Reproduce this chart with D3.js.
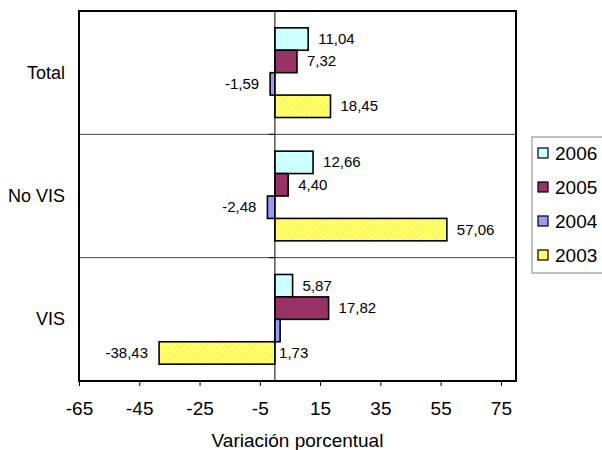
<!DOCTYPE html>
<html>
<head>
<meta charset="utf-8">
<script src="https://cdn.jsdelivr.net/npm/d3@7/dist/d3.min.js"></script>
<style>
  html, body { margin: 0; padding: 0; background: #fff; }
  svg { display: block; font-family: "Liberation Sans", Arial, sans-serif; }
</style>
</head>
<body>
<svg id="chart" width="602" height="450"></svg>
<script>
// ---- Data ----
const categories = ["Total", "No VIS", "VIS"];
const seriesNames = ["2006", "2005", "2004", "2003"];
const values2006 = [11.04, 12.66, 5.87];
const values2005 = [7.32, 4.40, 17.82];
const values2004 = [-1.59, -2.48, 1.73];
const values2003 = [18.45, 57.06, -38.43];
const xTickValues = [-65, -45, -25, -5, 15, 35, 55, 75];
const xDomain = [-65, 80];
const axisTitle = "Variación porcentual";

// ---- Styles ----
const colors = { "2006": "#CCFFFF", "2005": "#993366", "2004": "#9999FF", "2003": "url(#hatch)" };
const seriesValues = { "2006": values2006, "2005": values2005, "2004": values2004, "2003": values2003 };

const svg = d3.select("#chart");
const plot = { left: 79, right: 516, top: 11, bottom: 381 };

const locale = d3.formatLocale({ decimal: ",", thousands: ".", grouping: [3], currency: ["", ""], minus: "-" });
const fmt2 = locale.format(".2f");
const fmt0 = locale.format("d");

// pattern for 2003
const defs = svg.append("defs");
const pat = defs.append("pattern").attr("id", "hatch").attr("patternUnits", "userSpaceOnUse")
  .attr("width", 3).attr("height", 3);
pat.append("rect").attr("width", 3).attr("height", 3).attr("fill", "#FFFF3C");
pat.append("path").attr("d", "M0,3 L3,0 M-1,1 L1,-1 M2,4 L4,2").attr("stroke", "#FFFFC8").attr("stroke-width", 0.9);

const x = d3.scaleLinear().domain(xDomain).range([plot.left, plot.right]);
const y = d3.scaleBand().domain(categories).range([plot.top, plot.bottom]);
const yInner = d3.scaleBand().domain(seriesNames).range([0, y.bandwidth()]).paddingInner(0).paddingOuter(0.75);

// gridlines at category boundaries
const boundaries = categories.slice(1).map(c => y(c));
svg.append("g").selectAll("line").data(boundaries).join("line")
  .attr("x1", plot.left).attr("x2", plot.right)
  .attr("y1", d => d).attr("y2", d => d)
  .attr("stroke", "#404040").attr("stroke-width", 1);

// category tick marks (left of zero line)
const catTicks = [plot.top].concat(boundaries).concat([plot.bottom]);
svg.append("g").selectAll("line").data(catTicks).join("line")
  .attr("x1", x(0) - 6).attr("x2", x(0))
  .attr("y1", d => d).attr("y2", d => d)
  .attr("stroke", "#000").attr("stroke-width", 1);

// bars
const rows = [];
categories.forEach((c, i) => {
  seriesNames.forEach(s => rows.push({ cat: c, series: s, value: seriesValues[s][i] }));
});

svg.append("g").selectAll("rect").data(rows).join("rect")
  .attr("x", d => x(Math.min(0, d.value)))
  .attr("width", d => Math.abs(x(d.value) - x(0)))
  .attr("y", d => y(d.cat) + yInner(d.series))
  .attr("height", yInner.bandwidth())
  .attr("fill", d => colors[d.series])
  .attr("stroke", "#000").attr("stroke-width", 1.6);

// zero line (category axis)
svg.append("line").attr("x1", x(0)).attr("x2", x(0)).attr("y1", plot.top).attr("y2", plot.bottom)
  .attr("stroke", "#000").attr("stroke-width", 1);

// plot border
svg.append("rect").attr("x", plot.left).attr("y", plot.top)
  .attr("width", plot.right - plot.left).attr("height", plot.bottom - plot.top)
  .attr("fill", "none").attr("stroke", "#000").attr("stroke-width", 2);

// value labels
const labelNudge = { "VIS|2004": [-11, 22] };
svg.append("g").selectAll("text").data(rows).join("text")
  .attr("x", d => {
    const n = labelNudge[d.cat + "|" + d.series] || [0, 0];
    return (d.value >= 0 ? x(d.value) + 10 : x(d.value) - 11) + n[0];
  })
  .attr("y", d => {
    const n = labelNudge[d.cat + "|" + d.series] || [0, 0];
    return y(d.cat) + yInner(d.series) + yInner.bandwidth() / 2 + 5 + n[1];
  })
  .attr("text-anchor", d => d.value >= 0 ? "start" : "end")
  .attr("font-size", 15).attr("fill", "#000")
  .text(d => fmt2(d.value));

// category labels
svg.append("g").selectAll("text").data(categories).join("text")
  .attr("x", 65).attr("y", d => y(d) + y.bandwidth() / 2 + 6)
  .attr("text-anchor", "end").attr("font-size", 18).attr("fill", "#000")
  .text(d => d);

// x axis
const xAxis = d3.axisBottom(x).tickValues(xTickValues).tickSize(5).tickSizeOuter(0).tickFormat(fmt0);
const gx = svg.append("g").attr("transform", `translate(0,${plot.bottom})`).call(xAxis);
gx.select(".domain").remove();
gx.selectAll(".tick line").attr("stroke", "#000").attr("stroke-width", 1);
gx.selectAll(".tick text").attr("font-size", 19).attr("font-family", "Liberation Sans, Arial, sans-serif")
  .attr("fill", "#000").attr("dy", null).attr("y", 34);

// axis title
svg.append("text").attr("x", (plot.left + plot.right) / 2).attr("y", 447)
  .attr("text-anchor", "middle").attr("font-size", 19).attr("fill", "#000").text(axisTitle);

// legend
const legend = svg.append("g");
legend.append("rect").attr("x", 532).attr("y", 137).attr("width", 80).attr("height", 136)
  .attr("fill", "#fff").attr("stroke", "#808080").attr("stroke-width", 1);
const li = legend.selectAll("g.item").data(seriesNames).join("g").attr("class", "item")
  .attr("transform", (d, i) => `translate(538,${153 + i * 34})`);
li.append("rect").attr("x", 0).attr("y", -5).attr("width", 10).attr("height", 10)
  .attr("fill", d => colors[d]).attr("stroke", "#000").attr("stroke-width", 1.2);
li.append("text").attr("x", 17).attr("y", 6.5).attr("font-size", 19).attr("fill", "#000").text(d => d);
</script>
</body>
</html>
